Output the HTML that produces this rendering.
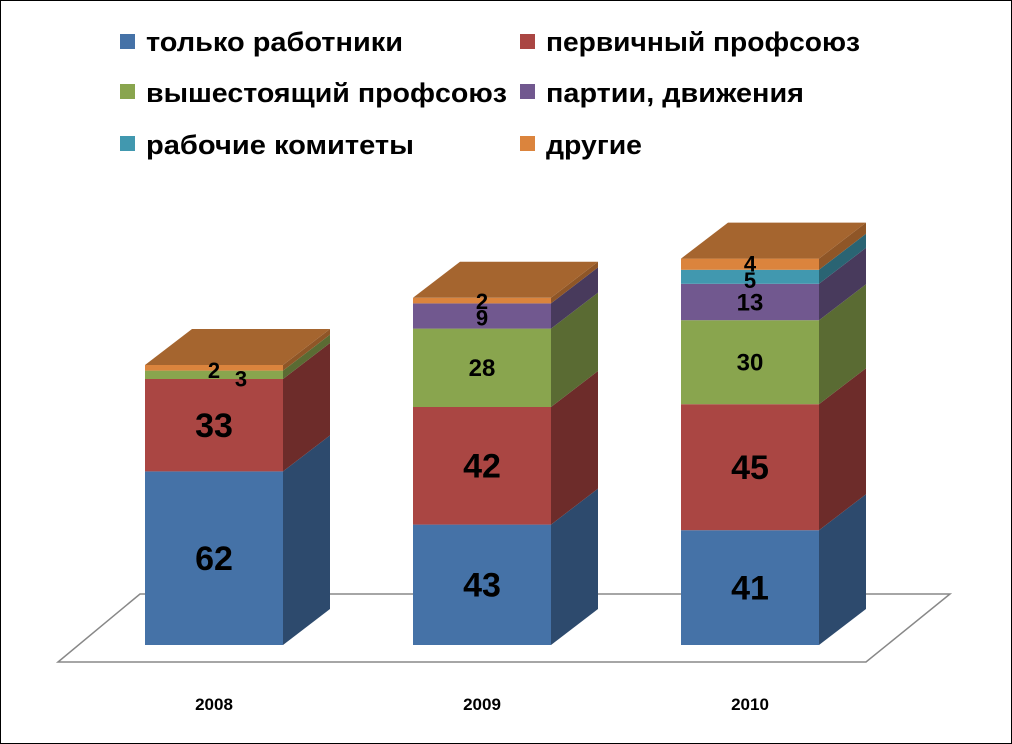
<!DOCTYPE html>
<html><head><meta charset="utf-8"><style>body{margin:0;background:#fff}svg{display:block}text{font-family:"Liberation Sans",sans-serif;font-weight:bold}</style></head><body>
<svg width="1012" height="744" viewBox="0 0 1012 744" xmlns="http://www.w3.org/2000/svg">
<rect x="0.5" y="0.5" width="1011" height="743" fill="#fff" stroke="#000"/>
<polygon points="58,662 866,662 950,594 140,594" fill="#fff" stroke="#888" stroke-width="1.5"/>
<g id="bars"></g>
<g font-size="27" fill="#000">
<rect x="120" y="34" width="15" height="15" fill="#4572a7"/><text x="146" y="51" textLength="257" lengthAdjust="spacingAndGlyphs">только работники</text>
<rect x="520" y="34" width="15" height="15" fill="#aa4643"/><text x="546" y="51" textLength="314" lengthAdjust="spacingAndGlyphs">первичный профсоюз</text>
<rect x="120" y="84" width="15" height="15" fill="#89a54e"/><text x="146" y="102" textLength="361" lengthAdjust="spacingAndGlyphs">вышестоящий профсоюз</text>
<rect x="520" y="84" width="15" height="15" fill="#71588f"/><text x="546" y="102" textLength="258" lengthAdjust="spacingAndGlyphs">партии, движения</text>
<rect x="120" y="136" width="15" height="15" fill="#4198af"/><text x="146" y="154" textLength="268" lengthAdjust="spacingAndGlyphs">рабочие комитеты</text>
<rect x="520" y="136" width="15" height="15" fill="#db843d"/><text x="546" y="154" textLength="96" lengthAdjust="spacingAndGlyphs">другие</text>
</g>
<g font-size="17" text-anchor="middle">
<text x="214" y="710">2008</text><text x="482" y="710">2009</text><text x="750" y="710">2010</text>
</g>
</svg>
<script>
const C=[["#4572a7","#2d4a6d"],["#aa4643","#6d2c2a"],["#89a54e","#5a6b33"],["#71588f","#483a5c"],["#4198af","#2a6473"],["#db843d","#8f5627"]];
const data=[[145,[62,33,3,0,0,2]],[413,[43,42,28,9,0,2]],[681,[41,45,30,13,5,4]]];
const g=document.getElementById('bars');const k=2.8,W=138,dx=47,dy=36,B=645;let s='';
for(const [x,v] of data){let y=B;let lab='';
v.forEach((n,i)=>{if(!n)return;const h=n*k,yt=y-h;
s+=`<rect x="${x}" y="${yt}" width="${W}" height="${h}" fill="${C[i][0]}"/>`;
s+=`<polygon points="${x+W},${y} ${x+W+dx},${y-dy} ${x+W+dx},${yt-dy} ${x+W},${yt}" fill="${C[i][1]}"/>`;
const fs=n>=30&&i<2?34:(n>=10?24:22);
let tx=x+W/2,ty=(y+yt)/2+fs*0.35;
if(x===145&&i===2){tx=x+96;ty=yt+16}
if(x===145&&i===5){tx=x+69;ty=yt+13}
if(x===413&&i===5){ty=yt+11}
if(x===413&&i===3){ty=yt+22}
if(x===681&&i===5){ty=yt+13}
if(x===681&&i===4){ty=yt+18}
lab+=`<text x="${tx}" y="${ty}" font-size="${fs}" text-anchor="middle">${n}</text>`;
y=yt;});
s+=`<polygon points="${x},${y} ${x+W},${y} ${x+W+dx},${y-dy} ${x+dx},${y-dy}" fill="#a5652f"/>`;
s+=lab;}
g.innerHTML=s;
</script>
</body></html>
